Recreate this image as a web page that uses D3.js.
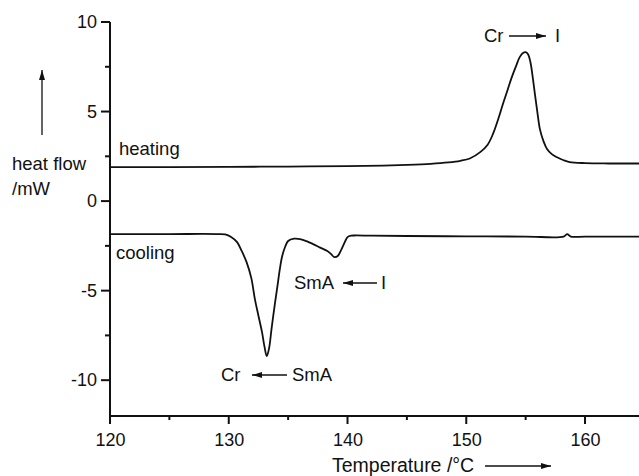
<!DOCTYPE html>
<html>
<head>
<meta charset="utf-8">
<script src="https://cdn.jsdelivr.net/npm/d3@7"></script>
<style>
  html, body { margin: 0; padding: 0; background: #fff; }
  svg { display: block; }
  text { font-family: "Liberation Sans", Arial, Helvetica, sans-serif; fill: #111; }
</style>
</head>
<body>
<svg id="chart" width="639" height="476"></svg>
<script>
// ---- data ----
const heatingT = [120, 125, 130, 135, 140, 143, 145, 147, 148.5, 149.5, 150.3, 151.2, 151.8, 152.25, 152.7, 153.1, 153.5, 153.85, 154.2, 154.5, 154.8, 155.0, 155.2, 155.4, 155.6, 155.8, 156.0, 156.2, 156.5, 156.8, 157.2, 157.6, 158.2, 158.7, 160, 162, 165];
const heatingV = [1.90, 1.90, 1.91, 1.93, 1.95, 1.98, 2.02, 2.08, 2.16, 2.25, 2.38, 2.75, 3.15, 3.75, 4.60, 5.45, 6.25, 6.95, 7.55, 8.04, 8.28, 8.32, 8.20, 7.77, 6.90, 5.87, 4.90, 4.02, 3.35, 2.91, 2.62, 2.46, 2.28, 2.18, 2.12, 2.10, 2.10];

const coolingT = [120, 125, 129.0, 129.7, 130.2, 130.7, 131.1, 131.5, 131.9, 132.2, 132.5, 132.8, 133.0, 133.2, 133.4, 133.6, 133.85, 134.1, 134.3, 134.5, 134.75, 135.0, 135.5, 136.0, 136.6, 137.1, 137.7, 138.3, 138.6, 138.9, 139.2, 139.5, 139.8, 140.0, 140.3, 140.6, 142, 145, 150, 155, 158.2, 158.5, 158.8, 160, 165];
const coolingV = [-1.84, -1.84, -1.84, -1.86, -2.00, -2.29, -2.80, -3.41, -4.30, -5.47, -6.40, -7.32, -8.10, -8.66, -8.20, -7.15, -5.90, -4.75, -3.80, -3.07, -2.55, -2.23, -2.10, -2.12, -2.25, -2.40, -2.60, -2.79, -2.95, -3.13, -3.05, -2.68, -2.25, -2.01, -1.93, -1.92, -1.93, -1.95, -1.97, -1.98, -1.98, -1.84, -1.98, -1.98, -1.98];

const xMajorTicks = [120, 130, 140, 150, 160];
const xMinorTicks = [125, 135, 145, 155, 165];
const yMajorTicks = [-10, -5, 0, 5, 10];
const yMinorTicks = [-7.5, -2.5, 2.5, 7.5];

const xTitle = "Temperature /°C";
const yTitle1 = "heat flow";
const yTitle2 = "/mW";
const seriesLabels = ["heating", "cooling"];

// ---- drawing ----
const svg = d3.select("#chart");
const x = d3.scaleLinear().domain([120, 165]).range([110, 644.4]);
const y = d3.scaleLinear().domain([-12, 10]).range([416, 22]);
const ink = "#111";

const defs = svg.append("defs");
defs.append("marker")
  .attr("id", "arr").attr("viewBox", "0 0 10 6")
  .attr("refX", 10).attr("refY", 3)
  .attr("markerWidth", 10).attr("markerHeight", 6)
  .attr("markerUnits", "userSpaceOnUse")
  .attr("orient", "auto")
  .append("path").attr("d", "M0,0 L10,3 L0,6 Z").attr("fill", ink);

const lineGen = d3.line().x(d => x(d[0])).y(d => y(d[1])).curve(d3.curveCatmullRom.alpha(0.5));

// curves
const heating = heatingT.map((t, i) => [t, heatingV[i]]);
const cooling = coolingT.map((t, i) => [t, coolingV[i]]);
svg.append("path").datum(heating).attr("d", lineGen)
  .attr("fill", "none").attr("stroke", ink).attr("stroke-width", 1.8);
svg.append("path").datum(cooling).attr("d", lineGen)
  .attr("fill", "none").attr("stroke", ink).attr("stroke-width", 1.8);

// axes (labels via d3.axis, tick marks drawn explicitly from the same scales)
const fmt = d => String(d);
const x0 = x(120), yb = y(-12);
svg.append("g").attr("transform", `translate(0,${yb})`)
  .call(d3.axisBottom(x).tickValues(xMajorTicks).tickFormat(fmt).tickSize(0).tickPadding(17).tickSizeOuter(0));
svg.append("g").attr("transform", `translate(${x0},0)`)
  .call(d3.axisLeft(y).tickValues(yMajorTicks).tickFormat(fmt).tickSize(0).tickPadding(13).tickSizeOuter(0));
svg.selectAll(".domain").remove();
svg.selectAll(".tick text").attr("font-size", 18).attr("fill", ink)
  .style("font-family", "'Liberation Sans', Arial, sans-serif");

const tk = svg.append("g").attr("fill", "none");
const seg = (x1, y1, x2, y2) => tk.append("line")
  .attr("x1", x1).attr("y1", y1).attr("x2", x2).attr("y2", y2)
  .attr("stroke", ink).attr("stroke-width", 2);
seg(x0, yb, 640, yb);
seg(x0, yb + 1, x0, y(10));
xMajorTicks.forEach(d => seg(x(d), yb, x(d), yb + 8));
xMinorTicks.forEach(d => seg(x(d), yb, x(d), yb + 4));
yMajorTicks.forEach(d => seg(x0 - 9, y(d), x0, y(d)));
yMinorTicks.forEach(d => seg(x0 - 5, y(d), x0, y(d)));

// axis titles
svg.append("text").attr("x", 332).attr("y", 472).attr("font-size", "19.5px").text(xTitle);
svg.append("line").attr("x1", 485).attr("y1", 466).attr("x2", 551).attr("y2", 466)
  .attr("stroke", ink).attr("stroke-width", 1.3).attr("marker-end", "url(#arr)");

svg.append("text").attr("x", 12).attr("y", 170).attr("font-size", "18.5px").text(yTitle1);
svg.append("text").attr("x", 12).attr("y", 195).attr("font-size", "18.5px").text(yTitle2);
svg.append("line").attr("x1", 42).attr("y1", 135).attr("x2", 42).attr("y2", 70)
  .attr("stroke", ink).attr("stroke-width", 1.3).attr("marker-end", "url(#arr)");

// series labels
svg.append("text").attr("x", 119).attr("y", 155).attr("font-size", "18.5px").text(seriesLabels[0]);
svg.append("text").attr("x", 116).attr("y", 259).attr("font-size", "18.5px").text(seriesLabels[1]);

// transition annotations
function annot(left, right, xl, xa1, xa2, xr, ybase, dirRight) {
  svg.append("text").attr("x", xl).attr("y", ybase).attr("font-size", "18.5px").text(left);
  svg.append("text").attr("x", xr).attr("y", ybase).attr("font-size", "18.5px").text(right);
  const ly = ybase - 6;
  svg.append("line")
    .attr("x1", dirRight ? xa1 : xa2).attr("y1", ly)
    .attr("x2", dirRight ? xa2 : xa1).attr("y2", ly)
    .attr("stroke", ink).attr("stroke-width", 1.3).attr("marker-end", "url(#arr)");
}
annot("Cr", "I", 484, 509, 546, 555, 42, true);
annot("SmA", "I", 294, 343, 377, 381, 289, false);
annot("Cr", "SmA", 221, 252, 287, 292, 381, false);
</script>
</body>
</html>
